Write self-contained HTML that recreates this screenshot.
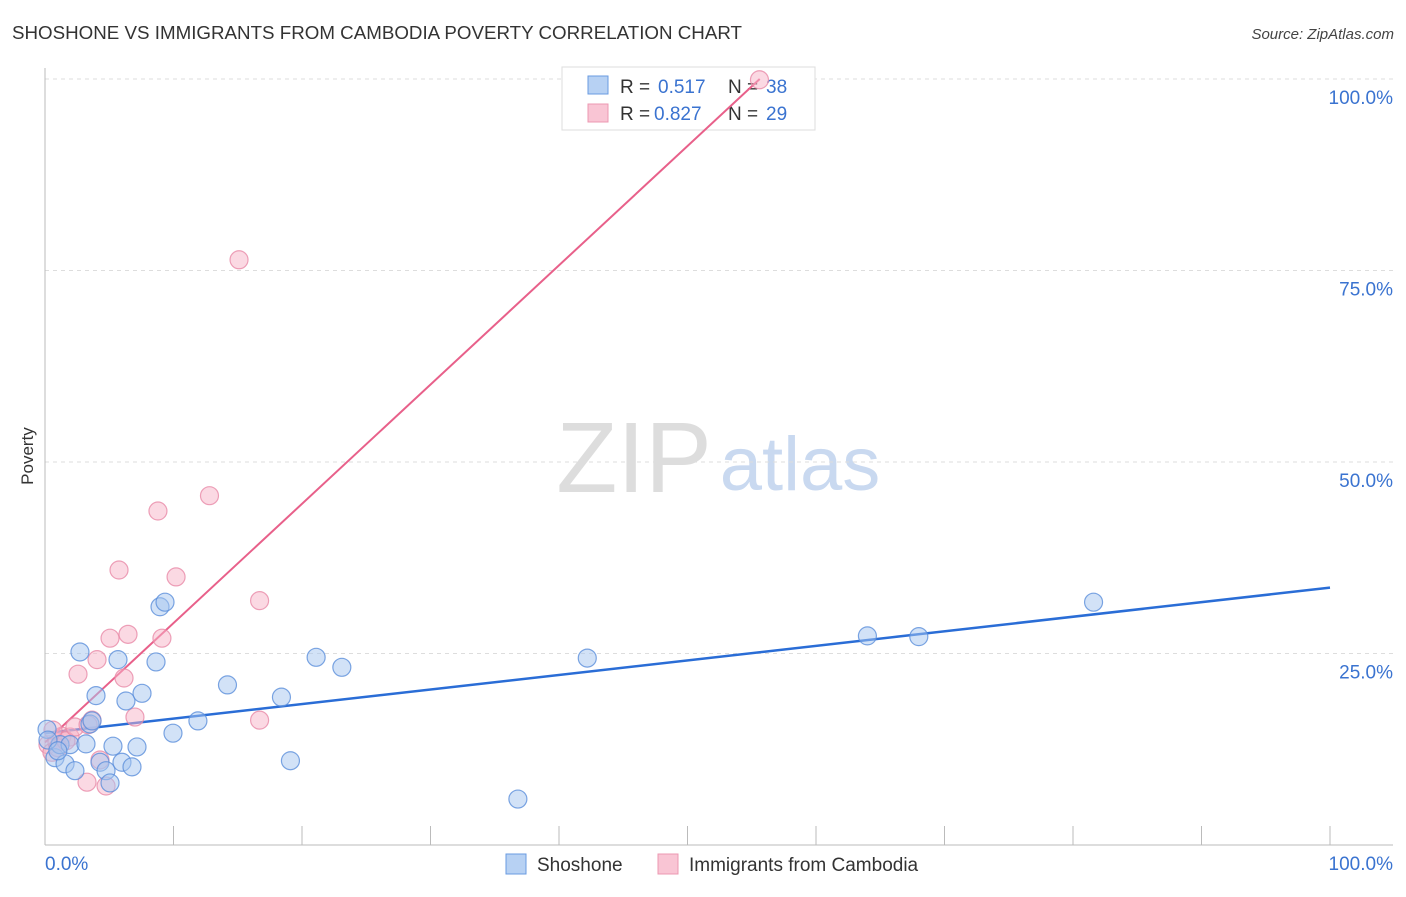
<!DOCTYPE html>
<html><head><meta charset="utf-8"><style>
body{margin:0;background:#fff;font-family:"Liberation Sans",sans-serif;}
svg text{font-family:"Liberation Sans",sans-serif;}
</style></head><body>
<svg id="chart" width="1406" height="892">
<text x="12" y="39" font-size="18" fill="#333" textLength="730" lengthAdjust="spacingAndGlyphs">SHOSHONE VS IMMIGRANTS FROM CAMBODIA POVERTY CORRELATION CHART</text>
<text x="1394" y="39" font-size="15" fill="#444" font-style="italic" text-anchor="end">Source: ZipAtlas.com</text>
<text x="33" y="456" font-size="17" fill="#333" text-anchor="middle" transform="rotate(-90 33 456)">Poverty</text>
<g>
<text x="634" y="492" font-size="100" fill="#ddd" font-family="Liberation Serif,serif" text-anchor="middle">ZIP</text>
<text x="800" y="490" font-size="76" fill="#c9d9f0" text-anchor="middle">atlas</text>
</g>
<g id="grid"></g>
<g id="axes"></g>
<g>
<rect x="562" y="67" width="253" height="63" fill="#fff" stroke="#ddd"/>
<rect x="588" y="76" width="20" height="18" fill="#b7d1f3" stroke="#6a9be0"/>
<rect x="588" y="104" width="20" height="18" fill="#f9c5d4" stroke="#ec98b2"/>
<text x="620" y="93" font-size="19" fill="#333">R =</text>
<text x="658" y="93" font-size="19" fill="#3a73d0">0.517</text>
<text x="728" y="93" font-size="19" fill="#333">N =</text>
<text x="766" y="93" font-size="19" fill="#3a73d0">38</text>
<text x="620" y="120" font-size="19" fill="#333">R =</text>
<text x="654" y="120" font-size="19" fill="#3a73d0">0.827</text>
<text x="728" y="120" font-size="19" fill="#333">N =</text>
<text x="766" y="120" font-size="19" fill="#3a73d0">29</text>
</g>
<g id="lines"></g>
<g id="points"></g>
<g>
<rect x="506" y="854" width="20" height="20" fill="#b7d1f3" stroke="#6a9be0"/>
<text x="537" y="871" font-size="19" fill="#333">Shoshone</text>
<rect x="658" y="854" width="20" height="20" fill="#f9c5d4" stroke="#ec98b2"/>
<text x="689" y="871" font-size="19" fill="#333">Immigrants from Cambodia</text>
</g>
</svg>
<script>
const yTicks=[25,50,75,100];
const yTickLabels=["25.0%","50.0%","75.0%","100.0%"];
const xTickLabels=["0.0%","100.0%"];
const shoX=[0.16,0.78,1.17,1.56,1.95,2.33,2.72,3.19,3.5,3.97,4.28,4.75,5.06,5.29,5.68,5.99,6.3,6.77,7.16,7.55,8.64,8.95,9.34,9.96,11.9,14.2,18.4,19.1,21.1,23.1,36.8,42.2,64.0,68.0,81.6,3.66,0.23,1.0];
const shoY=[15.1,11.4,13.1,10.6,13.1,9.7,25.2,13.2,15.8,19.5,10.8,9.7,8.1,12.9,24.2,10.8,18.8,10.2,12.8,19.8,23.9,31.1,31.7,14.6,16.2,20.9,19.3,11.0,24.5,23.2,6.0,24.4,27.3,27.2,31.7,16.2,13.7,12.3];
const camX=[0.23,0.54,0.93,1.32,1.95,2.57,3.27,3.66,4.05,4.28,4.75,5.06,5.76,6.15,6.46,7.0,8.79,9.1,10.2,12.8,15.1,16.7,16.7,55.6,1.0,1.63,2.33,3.35,0.62];
const camY=[13.1,12.1,13.4,14.2,14.1,22.3,8.2,16.3,24.2,11.1,7.7,27.0,35.9,21.8,27.5,16.7,43.6,27.0,35.0,45.6,76.4,31.9,16.3,99.9,12.7,13.6,15.4,15.7,15.0];
const shoLine=[14.6,33.6];
const camLine=[13.4,1.557];
const NS="http://www.w3.org/2000/svg";
const X=v=>45+v*12.85, Y=v=>845-v*7.66;
function mk(t,p,a){const e=document.createElementNS(NS,t);for(const k in a)e.setAttribute(k,a[k]);p.appendChild(e);return e;}
const grid=document.getElementById('grid'),axes=document.getElementById('axes'),lines=document.getElementById('lines'),pts=document.getElementById('points');
yTicks.forEach((t,i)=>{
 const l=mk('line',grid,{x1:45,x2:1393,y1:Y(t),y2:Y(t),stroke:'#ddd','stroke-dasharray':'4,4'});
 
 
 const tx=mk('text',axes,{x:1393,y:Y(t)+25,'font-size':19,fill:'#3a73d0','text-anchor':'end'});
 tx.textContent=yTickLabels[i];
 
 
});
const ax=mk('line',axes,{x1:45,x2:1393,y1:845,y2:845,stroke:'#bbb'});


const ay=mk('line',axes,{x1:45,x2:45,y1:68,y2:845,stroke:'#bbb'});


for(let i=0;i<=10;i++){const tk=mk('line',axes,{x1:X(i*10),x2:X(i*10),y1:826,y2:845,stroke:'#bbb'});
 
 }
const xl0=mk('text',axes,{x:45,y:870,'font-size':19,fill:'#3a73d0'});xl0.textContent=xTickLabels[0];


const xl1=mk('text',axes,{x:1393,y:870,'font-size':19,fill:'#3a73d0','text-anchor':'end'});xl1.textContent=xTickLabels[1];


function dots(xs,ys,fill,stroke,name){xs.forEach((v,i)=>{const c=mk('circle',pts,{cx:X(v),cy:Y(ys[i]),r:9,fill:fill,'fill-opacity':0.5,stroke:stroke,'stroke-opacity':0.8,'stroke-width':1.2});
 
 });}
dots(camX,camY,'#f7b3c8','#e88aa8','point-cambodia');
dots(shoX,shoY,'#a6c6ef','#5b8fdb','point-shoshone');
const bl=mk('line',lines,{x1:X(0),y1:Y(shoLine[0]),x2:X(100),y2:Y(shoLine[1]),stroke:'#2a6dd6','stroke-width':2.5});


const xe=(100-camLine[0])/camLine[1];
const pl=mk('line',lines,{x1:X(0),y1:Y(camLine[0]),x2:X(xe),y2:Y(100),stroke:'#e8608a','stroke-width':2});


</script>
</body></html>
